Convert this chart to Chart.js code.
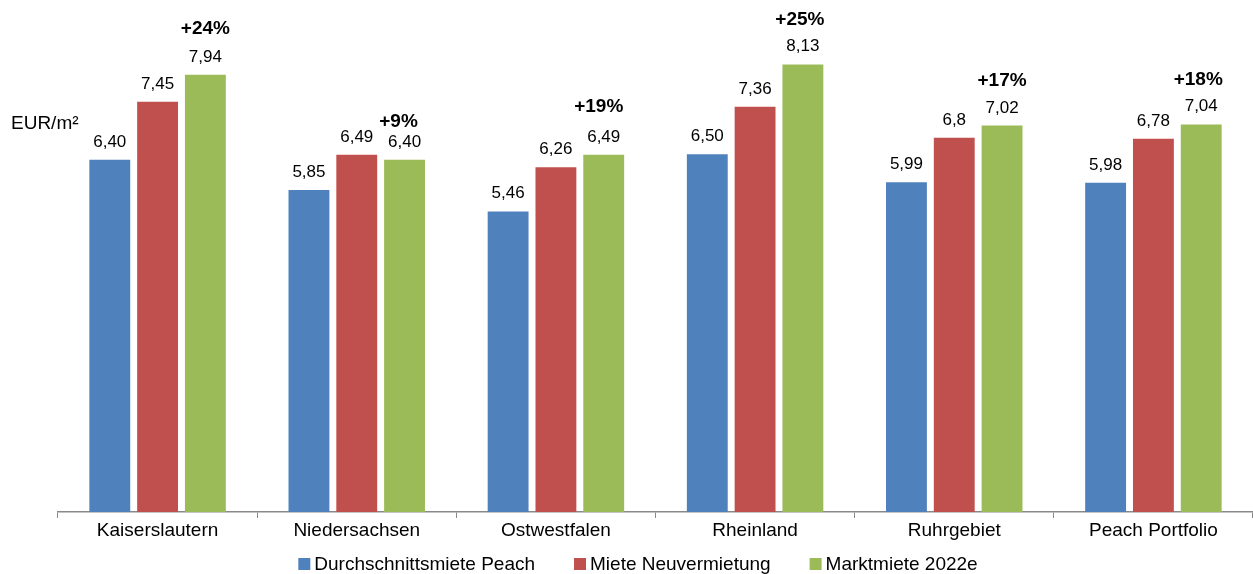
<!DOCTYPE html>
<html>
<head>
<meta charset="utf-8">
<script src="https://cdn.jsdelivr.net/npm/chart.js@4/dist/chart.umd.min.js"></script>
<style>
  html, body { margin: 0; padding: 0; background: #ffffff; }
  #wrap { width: 1253px; height: 574px; position: relative; }
</style>
</head>
<body>
<div id="wrap"><canvas id="c" width="1253" height="574"></canvas></div>
<script>
// ---- data ----
const categories = ['Kaiserslautern', 'Niedersachsen', 'Ostwestfalen', 'Rheinland', 'Ruhrgebiet', 'Peach Portfolio'];
const seriesNames = ['Durchschnittsmiete Peach', 'Miete Neuvermietung', 'Marktmiete 2022e'];
const avgRent = [6.40, 5.85, 5.46, 6.50, 5.99, 5.98];
const newLettingRent = [7.45, 6.49, 6.26, 7.36, 6.80, 6.78];
const marketRent = [7.94, 6.40, 6.49, 8.13, 7.02, 7.04];
const avgRentText = ['6,40', '5,85', '5,46', '6,50', '5,99', '5,98'];
const newLettingText = ['7,45', '6,49', '6,26', '7,36', '6,8', '6,78'];
const marketRentText = ['7,94', '6,40', '6,49', '8,13', '7,02', '7,04'];
const growthText = ['+24%', '+9%', '+19%', '+25%', '+17%', '+18%'];
const unitLabel = 'EUR/m²';

// ---- styles ----
const colors = ['#4F81BD', '#C0504D', '#9BBB59'];
const growthLift = [41, 33, 43, 39, 40, 39];
const growthShift = [0, -6, -5, -3, 0, -3];
const FONT = '"Liberation Sans", Arial, Helvetica, sans-serif';

const valueTexts = [avgRentText, newLettingText, marketRentText];

const labelPlugin = {
  id: 'labels',
  afterDatasetsDraw(chart) {
    const ctx = chart.ctx;
    ctx.save();
    ctx.fillStyle = '#000000';
    ctx.textAlign = 'center';
    ctx.textBaseline = 'alphabetic';
    chart.data.datasets.forEach((ds, di) => {
      const meta = chart.getDatasetMeta(di);
      meta.data.forEach((bar, i) => {
        ctx.font = '17px ' + FONT;
        ctx.fillText(valueTexts[di][i], bar.x, bar.y - 13);
        if (di === 2) {
          ctx.font = 'bold 19px ' + FONT;
          ctx.fillText(growthText[i], bar.x + growthShift[i], bar.y - growthLift[i]);
        }
      });
    });
    ctx.font = '19px ' + FONT;
    ctx.textAlign = 'left';
    ctx.fillText(unitLabel, 11, 129);
    ctx.restore();
  },
  afterDraw(chart) {
    // legend drawn from the chart's own dataset labels and colours
    const ctx = chart.ctx;
    ctx.save();
    ctx.font = '19px ' + FONT;
    ctx.textBaseline = 'middle';
    ctx.textAlign = 'left';
    const box = 12, gap = 4, itemGap = 39, cy = 564, centerX = 638;
    const items = chart.data.datasets.map(ds => ({ text: ds.label, color: ds.backgroundColor, w: ctx.measureText(ds.label).width }));
    let total = items.reduce((s, it) => s + box + gap + it.w, 0) + itemGap * (items.length - 1);
    let x = centerX - total / 2;
    items.forEach(it => {
      ctx.fillStyle = it.color;
      ctx.fillRect(x, cy - box / 2, box, box);
      ctx.fillStyle = '#000000';
      ctx.fillText(it.text, x + box + gap, cy + 1);
      x += box + gap + it.w + itemGap;
    });
    ctx.restore();
  }
};

new Chart(document.getElementById('c'), {
  type: 'bar',
  data: {
    labels: categories,
    datasets: [
      { label: seriesNames[0], data: avgRent, backgroundColor: colors[0] },
      { label: seriesNames[1], data: newLettingRent, backgroundColor: colors[1] },
      { label: seriesNames[2], data: marketRent, backgroundColor: colors[2] }
    ]
  },
  options: {
    responsive: false,
    animation: false,
    devicePixelRatio: 1,
    layout: { padding: { left: 22, right: 0, top: 0, bottom: 32 } },
    datasets: { bar: { categoryPercentage: 0.72, barPercentage: 0.855 } },
    plugins: {
      tooltip: { enabled: false },
      legend: { display: false }
    },
    scales: {
      x: {
        afterFit(scale) { scale.height = 30; },
        grid: {
          display: true,
          drawOnChartArea: false,
          drawTicks: true,
          tickLength: 6,
          color: '#898989',
          offset: true
        },
        border: { display: true, color: '#898989', width: 1.5 },
        ticks: {
          padding: 1,
          color: '#000000',
          font: { size: 19, family: FONT },
          maxRotation: 0,
          autoSkip: false
        }
      },
      y: {
        display: true,
        min: 0,
        max: 9.3,
        afterFit(scale) { scale.width = 36; },
        grid: { display: false },
        border: { display: false },
        ticks: { display: false }
      }
    }
  },
  plugins: [labelPlugin]
});
</script>
</body>
</html>
